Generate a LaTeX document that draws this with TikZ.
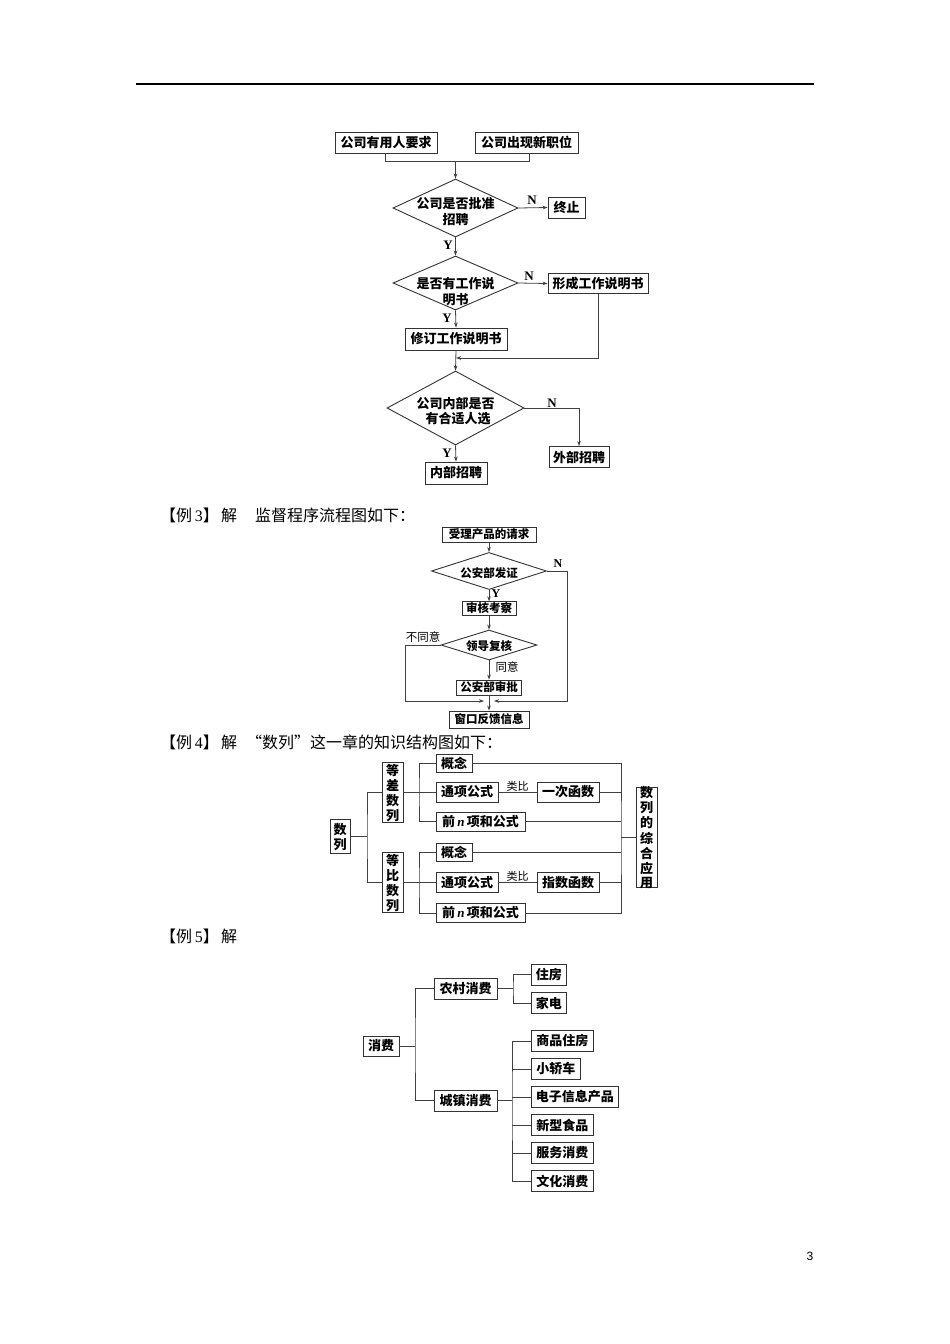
\documentclass[tikz,border=0pt]{standalone}
\usepackage{fontspec}
\setmainfont{Liberation Serif}
\newfontfamily\cjk{Noto Sans CJK SC}
\newfontfamily\arialf{Liberation Sans}
\usetikzlibrary{shapes.geometric,arrows.meta}
\newcommand\ctr[2][0pt]{\makebox[0pt]{\raisebox{\dimexpr-0.4em-#1\relax}[0pt][0pt]{\begin{tabular}{@{}c@{}}#2\end{tabular}}}}
\newcommand\nn{\,{\rmfamily\bfseries\itshape n}\,}
\tikzset{
  bx/.style={draw=black!80, line width=0.9pt, inner sep=0pt, fill=white},
  dm/.style={diamond, draw=black!80, line width=0.9pt, inner sep=0pt},
  ln/.style={draw=black!75, line width=0.8pt},
  arr/.style={ln, -{Stealth[length=5pt,width=3.6pt]}},
  fa/.style={font=\cjk\bfseries\fontsize{13}{15}\selectfont},
  fv/.style={font=\cjk\bfseries\fontsize{13}{13.5}\selectfont},
  fb/.style={font=\cjk\bfseries\fontsize{11.5}{13}\selectfont},
  fl/.style={font=\cjk\fontsize{11.5}{13}\selectfont, inner sep=0pt},
  fh/.style={font=\cjk\fontsize{16}{18}\selectfont, anchor=west, inner sep=0pt},
  yn/.style={font=\rmfamily\bfseries\fontsize{13}{14}\selectfont, inner sep=0pt},
  ynb/.style={font=\rmfamily\bfseries\fontsize{12}{13}\selectfont, inner sep=0pt},
}
\begin{document}
\begin{tikzpicture}[x=1pt,y=-1pt]
\useasboundingbox (0,0) rectangle (950,1344);
% header rule
\coordinate (hl) at (136,84);
\coordinate (hr) at (814,84);
\draw[line width=1.7pt] (hl) -- (hr);

% ================= Flowchart 1 =================
\node[bx,fa,minimum width=102pt,minimum height=21pt] (a1) at (386,142.5) {公司有用人要求};
\node[bx,fa,minimum width=103pt,minimum height=21pt] (a2) at (526.5,142.5) {公司出现新职位};
\coordinate (j1) at (455.5,161);
\node[dm,fa,minimum width=125pt,minimum height=58pt] (d1) at (455.5,208) {\ctr[2.8pt]{公司是否批准\\招聘}};
\node[bx,fa,minimum width=37pt,minimum height=21pt] (stop) at (566.5,207.5) {终止};
\node[dm,fa,minimum width=125pt,minimum height=54pt] (d2) at (455.5,283) {\ctr[8pt]{是否有工作说\\明书}};
\node[bx,fa,minimum width=100pt,minimum height=20pt] (form) at (598,283.5) {形成工作说明书};
\node[bx,fa,minimum width=102pt,minimum height=22pt] (rev) at (456,339) {修订工作说明书};
\coordinate (m1) at (456,358);
\node[dm,fa,minimum width=137pt,minimum height=74pt] (d3) at (455.5,408) {\ctr[2.5pt]{公司内部是否\\\ \,有合适人选}};
\node[bx,fa,minimum width=60pt,minimum height=21pt] (ext) at (579,457) {外部招聘};
\node[bx,fa,minimum width=62pt,minimum height=22pt] (int) at (456,473) {内部招聘};
\coordinate (c3) at (579,408);

\draw[ln] (a1.south -| 385,0) |- (j1);
\draw[ln] (a2.south -| 529,0) |- (j1);
\draw[arr] (j1) -- (d1.north);
\draw[arr] (d1.east) -- (stop.west);
\draw[arr] (d1.south) -- (d2.north);
\draw[arr] (d2.east) -- (form.west);
\draw[arr] (d2.south) -- (rev.north);
\draw[arr] (form.south) |- (m1);
\draw[arr] (rev.south) -- (d3.north);
\draw[arr] (d3.east) -- (c3) -- (ext.north);
\draw[arr] (d3.south) -- (int.north);

\node[yn] (n1) at (532,200) {N};
\node[yn] (y1) at (448,245) {Y};
\node[yn] (n2) at (529,276) {N};
\node[yn] (y2) at (447,318) {Y};
\node[yn] (n3) at (552,403) {N};
\node[yn] (y3) at (447,453) {Y};

% ================= Example 3 =================
\node[fh] (h3a) at (160,515) {【例\,{\rmfamily 3}】};
\node[fh] (h3b) at (221,515) {解};
\node[fh] (h3c) at (255,515) {监督程序流程图如下：};

\node[bx,fb,minimum width=94pt,minimum height=15pt] (s1) at (489,534.5) {受理产品的请求};
\node[dm,fb,minimum width=115pt,minimum height=37pt] (e1) at (489,571) {\ctr[1.5pt]{公安部发证}};
\node[bx,fb,minimum width=54pt,minimum height=13.5pt] (s2) at (489,608.5) {审核考察};
\node[dm,fb,minimum width=96pt,minimum height=30pt] (e2) at (489,645) {\ctr[1pt]{领导复核}};
\node[bx,fb,minimum width=65pt,minimum height=15pt] (s3) at (489,687.5) {公安部审批};
\node[bx,fb,minimum width=80pt,minimum height=17pt] (s4) at (489,719.5) {窗口反馈信息};
\coordinate (eR) at (567,701);
\coordinate (eL) at (405,701);
\coordinate (mR) at (494,701);
\coordinate (mL) at (484,701);

\draw[arr] (s1.south) -- (e1.north);
\draw[arr] (e1.south) -- (s2.north);
\draw[arr] (s2.south) -- (e2.north);
\draw[arr] (e2.south) -- (s3.north);
\draw[arr] (s3.south) -- (s4.north);
\draw[arr] (e1.east) -| (eR) -- (mR);
\draw[arr] (e2.west) -| (eL) -- (mL);

\node[ynb] (n4) at (558,564) {N};
\node[ynb] (y4) at (496,594) {Y};
\node[fl] (agree) at (507,667) {同意};
\node[fl] (disagree) at (423,637) {不同意};

% ================= Example 4 =================
\node[fh] (h4a) at (160,742) {【例\,{\rmfamily 4}】};
\node[fh] (h4b) at (221,742) {解};
\node[fh] (h4c) at (246,742) {“数列”这一章的知识结构图如下：};

\node[bx,fv,minimum width=20pt,minimum height=34pt] (sl) at (340,836) {\ctr{数\\列}};
\node[bx,fv,minimum width=21pt,minimum height=60pt] (dc) at (392.5,792) {\ctr{等\\差\\数\\列}};
\node[bx,fv,minimum width=21pt,minimum height=60pt] (db) at (392.5,882.5) {\ctr{等\\比\\数\\列}};
\node[bx,fa,minimum width=36pt,minimum height=18pt] (gn1) at (454,763) {概念};
\node[bx,fa,minimum width=62pt,minimum height=20pt] (tx1) at (467,792) {通项公式};
\node[bx,fa,minimum width=62pt,minimum height=20pt] (yc) at (568,792) {一次函数};
\node[bx,fa,minimum width=89pt,minimum height=19pt] (qn1) at (480.5,821.5) {前\nn 项和公式};
\node[bx,fa,minimum width=36pt,minimum height=18pt] (gn2) at (454,852) {概念};
\node[bx,fa,minimum width=62pt,minimum height=20pt] (tx2) at (467,882.5) {通项公式};
\node[bx,fa,minimum width=62pt,minimum height=20pt] (zs) at (568,882.5) {指数函数};
\node[bx,fa,minimum width=89pt,minimum height=19pt] (qn2) at (480.5,913) {前\nn 项和公式};
\node[bx,fv,minimum width=21pt,minimum height=100pt] (app) at (646.5,837) {\ctr{数\\列\\的\\综\\合\\应\\用}};
\coordinate (b1) at (367,836);
\coordinate (c1) at (419,792);
\coordinate (c2) at (419,882.5);
\coordinate (r1) at (621,837);

\draw[ln] (sl.east) -- (b1);
\draw[ln] (dc.west) -| (b1) |- (db.west);
\draw[ln] (dc.east) -- (tx1.west);
\draw[ln] (gn1.west) -| (c1) |- (qn1.west);
\draw[ln] (db.east) -- (tx2.west);
\draw[ln] (gn2.west) -| (c2) |- (qn2.west);
\draw[ln] (tx1.east) -- node[above=0.5pt,inner sep=0pt,font=\cjk\fontsize{11}{12}\selectfont] (lb1) {类比} (yc.west);
\draw[ln] (tx2.east) -- node[above=0.5pt,inner sep=0pt,font=\cjk\fontsize{11}{12}\selectfont] (lb2) {类比} (zs.west);
\draw[ln] (gn1.east) -| (r1) |- (qn2.east);
\draw[ln] (yc.east) -- (yc.east -| r1);
\draw[ln] (qn1.east) -- (qn1.east -| r1);
\draw[ln] (gn2.east) -- (gn2.east -| r1);
\draw[ln] (zs.east) -- (zs.east -| r1);
\draw[ln] (r1) -- (app.west);

% ================= Example 5 =================
\node[fh] (h5a) at (160,936) {【例\,{\rmfamily 5}】};
\node[fh] (h5b) at (221,936) {解};

\node[bx,fa,minimum width=36pt,minimum height=20pt] (xf) at (381,1046) {消费};
\node[bx,fa,minimum width=63pt,minimum height=21pt] (nc) at (465.5,988.5) {农村消费};
\node[bx,fa,minimum width=63pt,minimum height=21pt] (cz) at (465.5,1100.5) {城镇消费};
\node[bx,fa,minimum width=35pt,minimum height=21pt,anchor=west] (zf) at (531,974.5) {住房};
\node[bx,fa,minimum width=35pt,minimum height=21pt,anchor=west] (jd) at (531,1003) {家电};
\node[bx,fa,minimum width=62pt,minimum height=21pt,anchor=west] (u1) at (531,1041) {商品住房};
\node[bx,fa,minimum width=49pt,minimum height=21pt,anchor=west] (u2) at (531,1069) {小轿车};
\node[bx,fa,minimum width=87pt,minimum height=21pt,anchor=west] (u3) at (531,1097) {电子信息产品};
\node[bx,fa,minimum width=62pt,minimum height=21pt,anchor=west] (u4) at (531,1125) {新型食品};
\node[bx,fa,minimum width=62pt,minimum height=21pt,anchor=west] (u5) at (531,1153) {服务消费};
\node[bx,fa,minimum width=62pt,minimum height=21pt,anchor=west] (u6) at (531,1181) {文化消费};
\coordinate (k1) at (415,1046);
\coordinate (k2) at (513,988.5);
\coordinate (k3) at (512,1100.5);

\draw[ln] (xf.east) -- (k1);
\draw[ln] (nc.west) -| (k1) |- (cz.west);
\draw[ln] (nc.east) -- (k2);
\draw[ln] (zf.west) -| (k2) |- (jd.west);
\draw[ln] (cz.east) -- (k3);
\draw[ln] (u1.west) -| (k3) |- (u6.west);
\draw[ln] (u2.west) -- (u2.west -| k3);
\draw[ln] (u3.west) -- (u3.west -| k3);
\draw[ln] (u4.west) -- (u4.west -| k3);
\draw[ln] (u5.west) -- (u5.west -| k3);

% page number
\node[font=\arialf\fontsize{12}{14}\selectfont, inner sep=0pt] (pg) at (810,1256) {3};
\end{tikzpicture}
\end{document}
